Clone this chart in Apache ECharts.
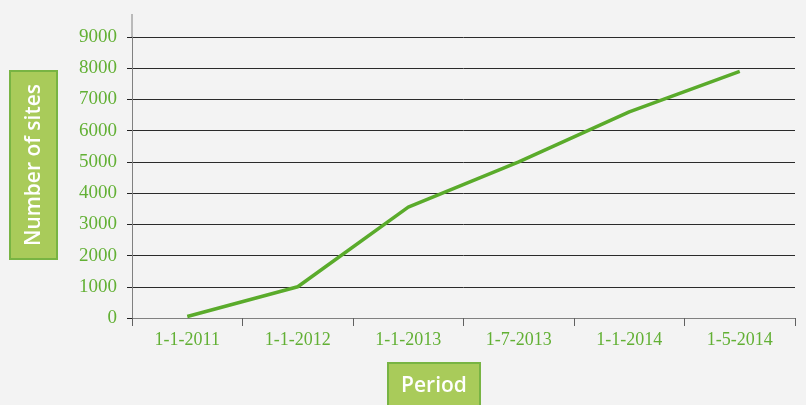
<!DOCTYPE html>
<html>
<head>
<meta charset="utf-8">
<script src="https://cdn.jsdelivr.net/npm/echarts@6/dist/echarts.min.js"></script>
<style>
html,body{margin:0;padding:0;background:#f3f3f3;}
#c{width:806px;height:405px;}
</style>
</head>
<body>
<div id="c"></div>
<script>
var categories = ['1-1-2011','1-1-2012','1-1-2013','1-7-2013','1-1-2014','1-5-2014'];
var sites = [50, 1000, 3550, 5000, 6600, 7900];
var yTitle = 'Number of sites';
var xTitle = 'Period';

var green = '#62b034';
var chart = echarts.init(document.getElementById('c'), null, {renderer:'canvas'});
var option = {
  backgroundColor: '#f3f3f3',
  animation: false,
  grid: {left: 132, right: 11, top: 37, bottom: 87},
  xAxis: {
    type: 'category',
    data: categories,
    boundaryGap: true,
    axisLine: {show: true, lineStyle: {color: '#808080', width: 1}},
    axisTick: {show: true, length: 8, lineStyle: {color: '#606060'}},
    axisLabel: {color: green, fontFamily: 'Liberation Serif', fontSize: 18, margin: 13}
  },
  yAxis: {
    type: 'value',
    min: 0, max: 9000, interval: 1000,
    axisLine: {show: true, lineStyle: {color: '#808080', width: 1}},
    axisTick: {show: true, length: 5, lineStyle: {color: '#222'}},
    splitLine: {show: true, lineStyle: {color: '#2a2a2a', width: 1}},
    axisLabel: {color: green, fontFamily: 'Liberation Serif', fontSize: 19, margin: 15,
      formatter: function (v) { return String(v); }}
  },
  series: [{
    type: 'line',
    data: sites,
    showSymbol: false,
    symbol: 'none',
    lineStyle: {color: '#5aab2b', width: 3.5},
    z: 5
  }]
};
chart.setOption(option);

var p0 = chart.convertToPixel({gridIndex:0}, [0, 9000]);
var gx = chart.getModel().getComponent('grid',0).coordinateSystem.getRect().x;
chart.setOption({
  graphic: [
    {type:'line', shape:{x1:gx, y1:14, x2:gx, y2:p0[1]}, style:{stroke:'#808080', lineWidth:1}},
    {type:'rect', shape:{x:10, y:71, width:47, height:188}, style:{fill:'#a9cb5a', stroke:'#78b443', lineWidth:2}},
    {type:'text', x:34, y:165, rotation:Math.PI/2, style:{text:yTitle, fill:'#ffffff', font:'600 21px "Open Sans"', align:'center', verticalAlign:'middle'}},
    {type:'rect', shape:{x:388, y:363, width:92, height:50}, style:{fill:'#a9cb5a', stroke:'#78b443', lineWidth:2}},
    {type:'text', x:434, y:386, style:{text:xTitle, fill:'#ffffff', font:'600 21px "Open Sans"', align:'center', verticalAlign:'middle'}}
  ]
});
</script>
</body>
</html>
